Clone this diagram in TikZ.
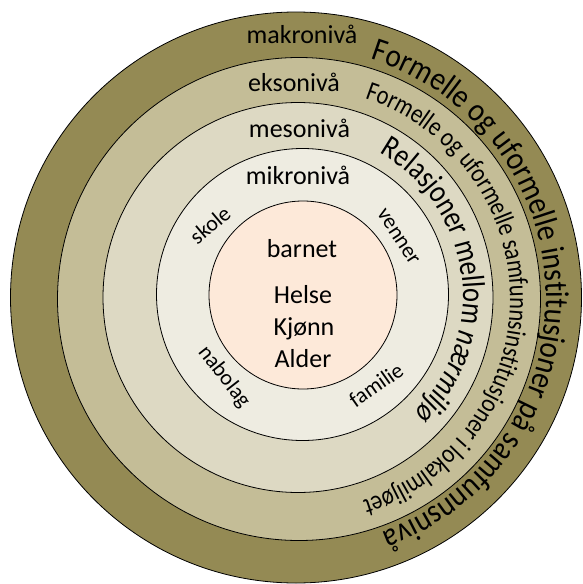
\documentclass[tikz,border=0pt]{standalone}
\usepackage{fontspec}
\setmainfont{Carlito}
\newfontfamily\arcfontA[FakeStretch=0.88]{Carlito}
\newfontfamily\arcfontB[FakeStretch=0.83]{Carlito}
\newfontfamily\arcfontC[FakeStretch=0.83]{Carlito}
\newfontfamily\arcfontCit[FakeStretch=0.83]{Carlito Italic}
\usetikzlibrary{decorations.text}
\definecolor{bandA}{HTML}{948A54}
\definecolor{bandB}{HTML}{C4BD97}
\definecolor{bandC}{HTML}{DDD9C3}
\definecolor{bandD}{HTML}{EEECE1}
\definecolor{core}{HTML}{FDE9D9}
\tikzset{
  ring/.style={circle, draw=black, line width=0.8pt, inner sep=0pt, outer sep=0pt},
  level/.style={anchor=base, inner sep=0pt, font=\fontsize{26}{26}\selectfont},
  corelabel/.style={anchor=base, inner sep=0pt, font=\fontsize{26}{26}\selectfont},
  ctxlabel/.style={inner sep=0pt, font=\fontsize{22}{22}\selectfont}
}
\begin{document}
\begin{tikzpicture}[x=1pt,y=1pt]
\useasboundingbox (0,0) rectangle (582,-584);
\fill[white] (0,0) rectangle (582,-584);
% rings
\node[ring, fill=bandA, minimum size=571] (makro) at (296,-297.5) {};
\node[ring, fill=bandB, minimum size=483] (ekso) at (299,-299) {};
\node[ring, fill=bandC, minimum size=390] (meso) at (298,-297.5) {};
\node[ring, fill=bandD, minimum size=292] (mikro) at (302.5,-294.5) {};
\node[ring, fill=core, minimum size=188] (barn) at (303,-295) {};
% level labels
\node[level] (lmakro) at (302,-43) {makronivå};
\node[level] (lekso) at (294,-91) {eksonivå};
\node[level] (lmeso) at (299.5,-137) {mesonivå};
\node[level] (lmikro) at (298,-184) {mikronivå};
% core labels
\node[corelabel] (tbarnet) at (302,-257) {barnet};
\node[corelabel] (thelse) at (303,-303) {Helse};
\node[corelabel] (tkjonn) at (304,-335) {Kjønn};
\node[corelabel] (talder) at (303,-367) {Alder};
% micro context labels
\node[ctxlabel, rotate=40] (tskole) at (210,-225) {skole};
\node[ctxlabel, rotate=-57] (tvenner) at (398,-237) {venner};
\node[ctxlabel, rotate=-52] (tnabolag) at (224,-377) {nabolag};
\node[ctxlabel, rotate=35] (tfamilie) at (376,-385) {familie};
% curved texts
\coordinate (cA) at (296,-297.5);
\coordinate (cB) at (299,-299);
\coordinate (cC) at (299,-296);
\path[decorate, decoration={text along path, text align=left,
  text={|\arcfontA\fontsize{33}{33}\selectfont|Formelle og uformelle institusjoner på samfunnsnivå}}]
  (cA) ++(72.6:250) arc[start angle=72.6, end angle=-85, radius=250];
\path[decorate, decoration={text along path, text align=left,
  text={|\arcfontB\fontsize{27}{27}\selectfont|Formelle og uformelle samfunnsinstitusjoner i lokalmiljøet}}]
  (cB) ++(71.8:211) arc[start angle=71.8, end angle=-85, radius=211];
\path[decorate, decoration={text along path, text align=left,
  text={|\arcfontC\fontsize{32}{32}\selectfont|Relasjoner mellom |\arcfontCit\fontsize{32}{32}\selectfont|nærmiljø}}]
  (cC) ++(60.6:164) arc[start angle=60.6, end angle=-70, radius=164];
\end{tikzpicture}
\end{document}
